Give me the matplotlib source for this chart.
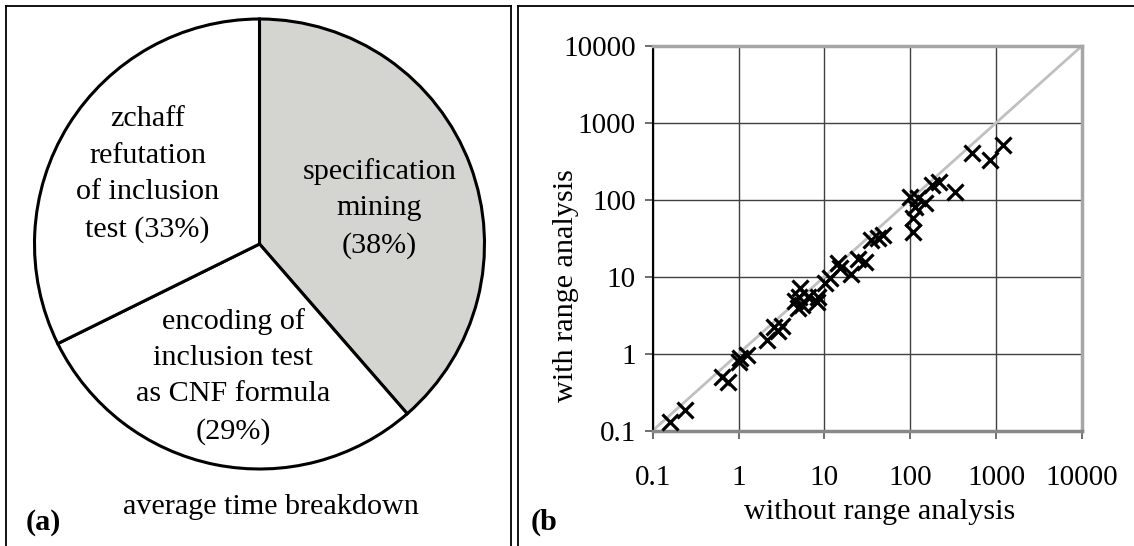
import numpy as np
import matplotlib
matplotlib.use('Agg')
import matplotlib.pyplot as plt
from matplotlib.lines import Line2D

plt.rcParams['font.family'] = ['Liberation Serif', 'DejaVu Serif']

# pie data (share of average time)
pie_labels = ['specification\nmining\n(38%)',
              'encoding of\ninclusion test\nas CNF formula\n(29%)',
              'zchaff\nrefutation\nof inclusion\ntest (33%)']
pie_shares = [38.6, 29.1, 32.3]
pie_colors = ['#d4d5d0', 'white', 'white']

# scatter data: time without / with range analysis
t_without = [0.16, 0.238, 0.637, 0.76, 1.0, 1.05, 1.24, 2.13, 2.9, 3.2, 2.6,
             4.6, 5.2, 4.97, 5.45, 5.0, 6.5, 8.1, 8.5, 10.2, 11.6, 15.2, 14.5,
             20.6, 24.7, 29.6, 35.2, 42.3, 48.5, 99, 113, 108, 108, 124, 150,
             177, 213, 331, 519, 848, 1210]
t_with = [0.131, 0.186, 0.50, 0.43, 0.79, 0.88, 0.96, 1.5, 2.0, 2.3, 2.2,
          4.8, 7.1, 3.9, 4.3, 5.5, 5.5, 4.75, 5.5, 8.2, 9.5, 12.9, 15,
          11, 17, 15.7, 30, 31.7, 35, 109, 81, 57, 38, 104, 90,
          155, 172, 127, 401, 328, 513]
ticks = [0.1, 1, 10, 100, 1000, 10000]
tick_labels = ['0.1', '1', '10', '100', '1000', '10000']

W, H = 1134, 546
fig = plt.figure(figsize=(W / 100, H / 100), dpi=100)
fs = 21.7

def px(x0, y0, w, h):
    # pixel box (top-left origin) -> figure fraction
    return [x0 / W, 1 - (y0 + h) / H, w / W, h / H]

def ftext(x, y, s, **kw):
    return fig.text(x / W, 1 - y / H, s, **kw)

# panel frames
for xs, ys in [([6.4, 6.4], [6.3, H + 5]), ([510.7, 510.7], [6.3, H + 5]),
               ([6.4, 510.7], [6.3, 6.3]),
               ([518, 518], [6.3, H + 5]), ([518, W + 5], [6.3, 6.3])]:
    fig.add_artist(Line2D([x / W for x in xs], [1 - y / H for y in ys],
                          color='black', lw=1.3))

# (a) pie
cx, cy, r = 259.5, 244, 225
ax1 = fig.add_axes(px(cx - r, cy - r, 2 * r, 2 * r))
ax1.pie(pie_shares, colors=pie_colors, startangle=90, counterclock=False,
        radius=1, wedgeprops=dict(edgecolor='black', linewidth=2.2))
ax1.set_xlim(-1, 1)
ax1.set_ylim(-1, 1)
ax1.set_aspect('equal')
ax1.axis('off')
label_pos = [(0.533, 0.158), (-0.118, -0.588), (-0.497, 0.309)]
for lab, (lx, ly) in zip(pie_labels, label_pos):
    ax1.text(lx, ly, lab, ha='center', va='center', fontsize=fs,
             linespacing=1.52)

ftext(270.5, 507, 'average time breakdown', ha='center', va='center',
      fontsize=fs)
ftext(26, 522, '(a)', ha='left', va='center', fontsize=fs, fontweight='bold')
ftext(531, 522, '(b', ha='left', va='center', fontsize=fs, fontweight='bold')

# (b) scatter
ax2 = fig.add_axes(px(652.6, 45.7, 429.5, 385))
ax2.set_xscale('log')
ax2.set_yscale('log')
ax2.set_xlim(0.1, 10000)
ax2.set_ylim(0.1, 10000)
ax2.plot([0.1, 10000], [0.1, 10000], color='#c0c0c0', lw=2, zorder=2)
ax2.plot(t_without, t_with, linestyle='none', marker='x', color='black',
         markersize=11, markeredgewidth=2.3, zorder=3, clip_on=False)
ax2.set_xticks(ticks)
ax2.set_xticklabels(tick_labels)
ax2.set_yticks(ticks)
ax2.set_yticklabels(tick_labels)
ax2.minorticks_off()
ax2.grid(True, color='#404040', lw=1)
ax2.set_axisbelow(True)
ax2.tick_params(labelsize=21, length=6, width=1.2, color='#555555')
ax2.tick_params(axis='x', pad=19)
ax2.tick_params(axis='y', pad=6)
for s in ['top', 'right']:
    ax2.spines[s].set_color('#a6a6a6')
    ax2.spines[s].set_linewidth(2.5)
ax2.spines['bottom'].set_color('#888888')
ax2.spines['bottom'].set_linewidth(2.5)
ax2.spines['left'].set_color('black')
ax2.spines['left'].set_linewidth(1.5)

ftext(880, 512, 'without range analysis', ha='center', va='center',
      fontsize=fs)
ftext(566, 286, 'with range analysis', ha='center', va='center',
      fontsize=fs, rotation=90)

fig.savefig('out.png', dpi=100)
